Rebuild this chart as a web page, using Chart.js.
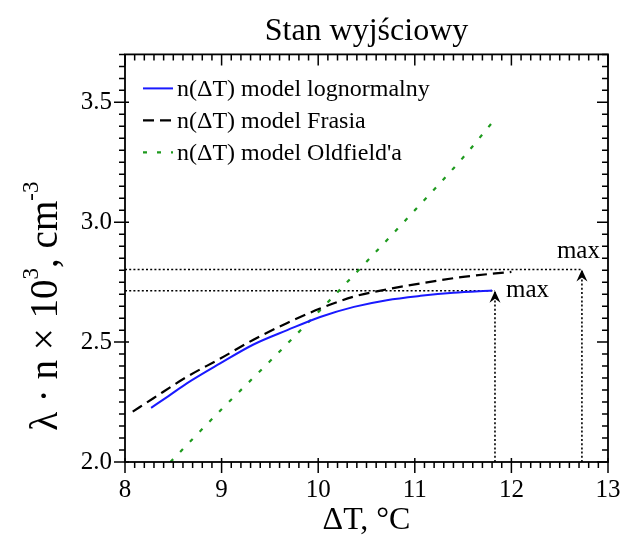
<!DOCTYPE html>
<html lang="pl">
<head>
<meta charset="UTF-8" />
<title>Stan wyjściowy</title>
<script src="https://cdn.jsdelivr.net/npm/chart.js"></script>
<style>
  html, body { margin: 0; padding: 0; background: #fff; }
</style>
</head>
<body>
<canvas id="wykres" width="627" height="540"></canvas>

<script>
  // n(ΔT) model lognormalny
  const logX = [8.27, 8.45, 8.64, 8.98, 9.33, 9.68, 10.02, 10.37, 10.71, 11.06, 11.4, 11.8];
  const logY = [2.226, 2.275, 2.328, 2.41, 2.49, 2.55, 2.605, 2.647, 2.675, 2.693, 2.706, 2.715];
  // n(ΔT) model Frasia
  const frasX = [8.08, 8.29, 8.64, 8.98, 9.33, 9.68, 10.02, 10.37, 10.71, 11.06, 11.5, 12.0];
  const frasY = [2.21, 2.265, 2.355, 2.43, 2.51, 2.58, 2.64, 2.69, 2.72, 2.745, 2.772, 2.793];
  // n(ΔT) model Oldfield'a
  const oldX = [8.47, 9.0, 9.5, 10.0, 10.5, 11.0, 11.5, 11.81];
  const oldY = [2.0, 2.22, 2.42, 2.625, 2.835, 3.05, 3.27, 3.42];

  // maksima (ΔT, wartość)
  const maxLog = [11.83, 2.714];
  const maxFras = [12.73, 2.803];

  const etykiety = ['n(ΔT) model lognormalny', 'n(ΔT) model Frasia', "n(ΔT) model Oldfield'a"];
  const zakresX = [8, 13];
  const zakresY = [2.0, 3.7];
  const krokX = [1, 0.1];    // główne, pomocnicze
  const krokY = [0.5, 0.05];

  const punkty = (xs, ys) => xs.map((v, i) => ({ x: v, y: ys[i] }));
  const serif = '"Liberation Serif", "Times New Roman", serif';

  const linieMax = (m) => [
    { data: [{ x: zakresX[0], y: m[1] }, { x: m[0], y: m[1] }] },
    { data: [{ x: m[0], y: zakresY[0] }, { x: m[0], y: m[1] }] }
  ];

  // rama wykresu i podziałka
  const ramka = {
    id: 'ramka',
    afterDraw(chart) {
      const { ctx, chartArea: a, scales: { x, y } } = chart;
      ctx.save();
      ctx.strokeStyle = '#000';
      ctx.lineWidth = 1.8;
      ctx.strokeRect(a.left, a.top, a.right - a.left, a.bottom - a.top);
      ctx.lineWidth = 1.5;
      ctx.beginPath();
      const nX = Math.round((zakresX[1] - zakresX[0]) / krokX[1]);
      for (let i = 0; i <= nX; i++) {
        const px = x.getPixelForValue(zakresX[0] + i * krokX[1]);
        const glowny = i % Math.round(krokX[0] / krokX[1]) === 0;
        const d = glowny ? 11 : 6;
        ctx.moveTo(px, a.bottom - (glowny ? 4 : 0)); ctx.lineTo(px, a.bottom + d);
        ctx.moveTo(px, a.top); ctx.lineTo(px, a.top + d);
      }
      const nY = Math.round((zakresY[1] - zakresY[0]) / krokY[1]);
      for (let i = 0; i <= nY; i++) {
        const py = y.getPixelForValue(zakresY[0] + i * krokY[1]);
        const glowny = i % Math.round(krokY[0] / krokY[1]) === 0;
        const d = glowny ? 11 : 6;
        ctx.moveTo(a.left + (glowny ? 4 : 0), py); ctx.lineTo(a.left - d, py);
        ctx.moveTo(a.right, py); ctx.lineTo(a.right - d, py);
      }
      ctx.stroke();
      ctx.restore();
    }
  };

  // legenda wewnątrz pola wykresu
  const legenda = {
    id: 'legenda',
    afterDatasetsDraw(chart) {
      const { ctx, chartArea: a } = chart;
      ctx.save();
      ctx.font = '24px ' + serif;
      ctx.textBaseline = 'middle';
      ctx.fillStyle = '#000';
      chart.data.datasets.slice(0, 3).forEach((ds, i) => {
        const py = a.top + 34 + i * 32;
        ctx.strokeStyle = ds.borderColor;
        ctx.lineWidth = ds.borderWidth;
        ctx.setLineDash(ds.borderDash || []);
        ctx.beginPath();
        ctx.moveTo(a.left + 18, py);
        ctx.lineTo(a.left + 48, py);
        ctx.stroke();
        ctx.fillText(ds.label, a.left + 52, py + 1);
      });
      ctx.restore();
    }
  };

  // strzałki i napisy "max"
  const maksima = {
    id: 'maksima',
    afterDatasetsDraw(chart) {
      const { ctx, scales: { x, y } } = chart;
      ctx.save();
      ctx.fillStyle = '#000';
      [maxLog, maxFras].forEach((m) => {
        const px = x.getPixelForValue(m[0]);
        const py = y.getPixelForValue(m[1]);
        ctx.beginPath();
        ctx.moveTo(px, py);
        ctx.lineTo(px + 5.5, py + 12);
        ctx.lineTo(px, py + 8);
        ctx.lineTo(px - 5.5, py + 12);
        ctx.closePath();
        ctx.fill();
      });
      ctx.font = '25px ' + serif;
      ctx.textBaseline = 'middle';
      ctx.textAlign = 'left';
      ctx.fillText('max', x.getPixelForValue(maxLog[0]) + 11, y.getPixelForValue(maxLog[1]));
      ctx.textAlign = 'right';
      ctx.fillText('max', x.getPixelForValue(maxFras[0]) + 18, y.getPixelForValue(maxFras[1]) - 18);
      ctx.restore();
    }
  };

  // tytuł osi Y z indeksami górnymi
  const tytulY = {
    id: 'tytulY',
    afterDraw(chart) {
      const { ctx, chartArea: a } = chart;
      const czesci = [['λ · n × 10', false], ['3', true], [', cm', false], ['-3', true]];
      const fDuzy = '39px ' + serif, fMaly = '23px ' + serif;
      ctx.save();
      let w = 0;
      czesci.forEach(([t, sup]) => { ctx.font = sup ? fMaly : fDuzy; w += ctx.measureText(t).width; });
      ctx.translate(47, (a.top + a.bottom) / 2 + 48);
      ctx.rotate(-Math.PI / 2);
      ctx.fillStyle = '#000';
      ctx.textBaseline = 'middle';
      let cx = -w / 2;
      czesci.forEach(([t, sup]) => {
        ctx.font = sup ? fMaly : fDuzy;
        ctx.fillText(t, cx, sup ? -15 : 0);
        cx += ctx.measureText(t).width;
      });
      ctx.restore();
    }
  };

  const kropki = { borderColor: '#000', borderWidth: 1.6, borderDash: [2, 2.2], pointRadius: 0, showLine: true };

  new Chart(document.getElementById('wykres'), {
    type: 'scatter',
    data: {
      datasets: [
        { label: etykiety[0], data: punkty(logX, logY), borderColor: '#1a1aff', borderWidth: 2,
          showLine: true, pointRadius: 0, cubicInterpolationMode: 'monotone' },
        { label: etykiety[1], data: punkty(frasX, frasY), borderColor: '#000', borderWidth: 2.2,
          borderDash: [11, 6], showLine: true, pointRadius: 0, cubicInterpolationMode: 'monotone' },
        { label: etykiety[2], data: punkty(oldX, oldY), borderColor: '#1e9a1e', borderWidth: 2.2,
          borderDash: [4, 10], showLine: true, pointRadius: 0, cubicInterpolationMode: 'monotone' },
        ...linieMax(maxLog).map(d => Object.assign({}, kropki, d)),
        ...linieMax(maxFras).map(d => Object.assign({}, kropki, d))
      ]
    },
    options: {
      responsive: false,
      animation: false,
      layout: { padding: { left: 0, right: 19, top: 0, bottom: 0 } },
      plugins: {
        legend: { display: false },
        tooltip: { enabled: false },
        title: {
          display: true,
          fullSize: false,
          text: 'Stan wyjściowy',
          color: '#000',
          font: { family: serif, size: 32, weight: 'normal' },
          padding: { top: 12, bottom: 4 }
        }
      },
      scales: {
        x: {
          type: 'linear',
          min: zakresX[0], max: zakresX[1],
          ticks: { stepSize: krokX[0], color: '#000', padding: 13, font: { family: serif, size: 25 } },
          grid: { display: false, drawTicks: false },
          border: { display: false },
          title: { display: true, text: 'ΔT, °C', color: '#000', padding: { top: 0, bottom: 0 },
                   font: { family: serif, size: 32 } },
          afterFit(s) { s.height = 78; s.paddingLeft = 0; s.paddingRight = 0; }
        },
        y: {
          type: 'linear',
          min: zakresY[0], max: zakresY[1],
          ticks: { stepSize: krokY[0], includeBounds: false, color: '#000', padding: 13,
                   font: { family: serif, size: 25 }, callback: v => v.toFixed(1) },
          grid: { display: false, drawTicks: false },
          border: { display: false },
          afterFit(s) { s.width = 125; }
        }
      }
    },
    plugins: [ramka, legenda, maksima, tytulY]
  });
</script>
</body>
</html>
